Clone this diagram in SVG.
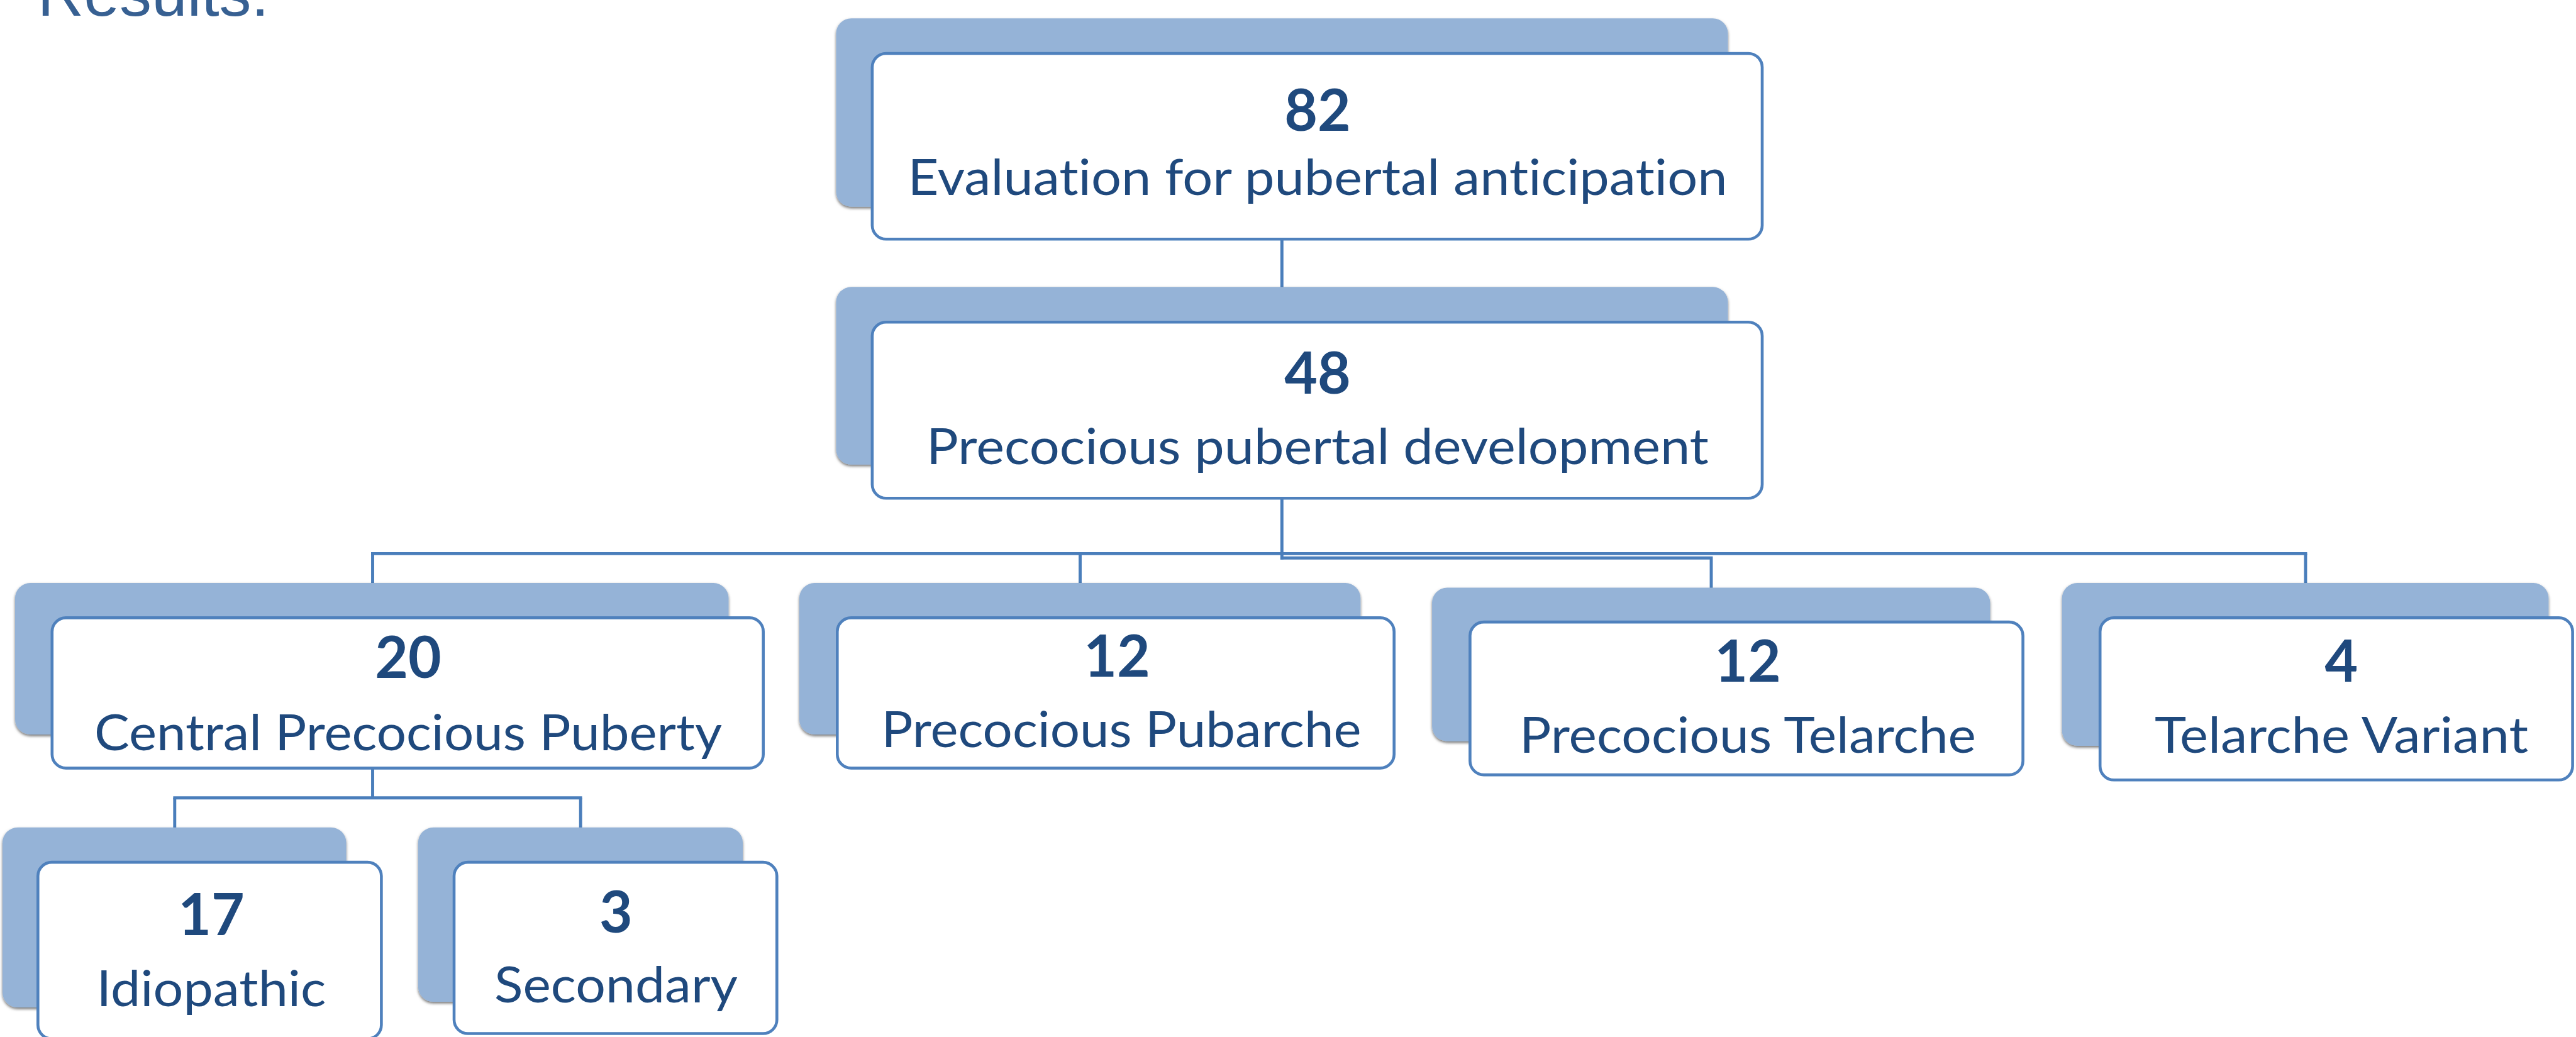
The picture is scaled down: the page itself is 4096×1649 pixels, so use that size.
<svg xmlns="http://www.w3.org/2000/svg" width="4096" height="1649" viewBox="0 0 4096 1649">
<defs>
<filter id="sh" x="-5%" y="-8%" width="110%" height="120%">
<feDropShadow dx="0" dy="2.5" stdDeviation="2" flood-color="#000" flood-opacity="0.55"/>
</filter>
</defs>
<style>
.back{fill:#95B3D7;filter:url(#sh)}
.front{fill:#FFFFFF;stroke:#4F81BD;stroke-width:4.6}
.num{font-family:Lato,"Open Sans",sans-serif;font-weight:700;font-size:91px;fill:#1F497D;text-anchor:middle;font-variant-ligatures:none}
.lbl{font-family:Lato,"Open Sans",sans-serif;font-size:80px;fill:#1F497D;text-anchor:middle;font-variant-ligatures:none;font-feature-settings:"liga" 0,"clig" 0}
.conn{stroke:#4A7EBB;stroke-width:4.9;fill:none}
.title{font-family:"Liberation Sans",Arial,sans-serif;font-size:102px;fill:#376092}
</style>
<rect x="0" y="0" width="4096" height="1649" fill="#FFFFFF"/>
<text class="title" x="59.5" y="25">Results:</text>
<g id="connectors">
<line class="conn" x1="2038.3" y1="382" x2="2038.3" y2="457"/>
<line class="conn" x1="2038.3" y1="794" x2="2038.3" y2="889.7"/>
<line class="conn" x1="590" y1="880.4" x2="3668.5" y2="880.4"/>
<line class="conn" x1="592.5" y1="880.4" x2="592.5" y2="928"/>
<line class="conn" x1="1717.5" y1="880.4" x2="1717.5" y2="928"/>
<line class="conn" x1="3666" y1="880.4" x2="3666" y2="928"/>
<polyline class="conn" points="2035.9,887.3 2721,887.3 2721,935"/>
<line class="conn" x1="592.5" y1="1223" x2="592.5" y2="1268.7"/>
<line class="conn" x1="275.4" y1="1268.7" x2="925.6" y2="1268.7"/>
<line class="conn" x1="277.8" y1="1268.7" x2="277.8" y2="1316.5"/>
<line class="conn" x1="923.2" y1="1268.7" x2="923.2" y2="1316.5"/>
</g>
<g id="n82">
<rect class="back" x="1329.5" y="29.2" width="1418" height="299.5" rx="24"/>
<rect class="front" x="1386.9" y="85" width="1415.1" height="295.2" rx="22"/>
<text class="num" x="2095" y="208.2">82</text>
<text class="lbl" x="2095" y="310.3" textLength="1303" lengthAdjust="spacingAndGlyphs">Evaluation for pubertal anticipation</text>
</g>
<g id="n48">
<rect class="back" x="1329.5" y="456.3" width="1418" height="282.5" rx="24"/>
<rect class="front" x="1386.9" y="512.2" width="1415.1" height="280" rx="22"/>
<text class="num" x="2095" y="626">48</text>
<text class="lbl" x="2095" y="737.9" textLength="1244" lengthAdjust="spacingAndGlyphs">Precocious pubertal development</text>
</g>
<g id="n20">
<rect class="back" x="24" y="927.1" width="1134.5" height="240.8" rx="24"/>
<rect class="front" x="82.8" y="982.4" width="1130.9" height="239" rx="22"/>
<text class="num" x="649" y="1077.6">20</text>
<text class="lbl" x="649" y="1193.2" textLength="998" lengthAdjust="spacingAndGlyphs">Central Precocious Puberty</text>
</g>
<g id="n12a">
<rect class="back" x="1271" y="927.1" width="892.3" height="240.8" rx="24"/>
<rect class="front" x="1331.3" y="982.4" width="885.4" height="239" rx="22"/>
<text class="num" x="1776" y="1075.7">12</text>
<text class="lbl" x="1783" y="1188.2" textLength="763" lengthAdjust="spacingAndGlyphs">Precocious Pubarche</text>
</g>
<g id="n12b">
<rect class="back" x="2277.1" y="934.4" width="887.3" height="244.3" rx="24"/>
<rect class="front" x="2337.4" y="989.1" width="879.2" height="243" rx="22"/>
<text class="num" x="2779" y="1084.3">12</text>
<text class="lbl" x="2779" y="1196.8" textLength="726" lengthAdjust="spacingAndGlyphs">Precocious Telarche</text>
</g>
<g id="n4">
<rect class="back" x="3278.8" y="927.1" width="773.6" height="258.8" rx="24"/>
<rect class="front" x="3339.2" y="982.4" width="751.4" height="257.9" rx="22"/>
<text class="num" x="3723" y="1083.6">4</text>
<text class="lbl" x="3723" y="1196.8" textLength="594" lengthAdjust="spacingAndGlyphs">Telarche Variant</text>
</g>
<g id="n17">
<rect class="back" x="4" y="1315.8" width="546.5" height="286.3" rx="24"/>
<rect class="front" x="60.3" y="1371.1" width="546.1" height="280.6" rx="22"/>
<text class="num" x="336" y="1486.5">17</text>
<text class="lbl" x="336" y="1599.6" textLength="365" lengthAdjust="spacingAndGlyphs">Idiopathic</text>
</g>
<g id="n3">
<rect class="back" x="664.9" y="1315.8" width="516.1" height="277.2" rx="24"/>
<rect class="front" x="722" y="1371.1" width="513.3" height="272.4" rx="22"/>
<text class="num" x="979.5" y="1483">3</text>
<text class="lbl" x="979.5" y="1594.4" textLength="387" lengthAdjust="spacingAndGlyphs">Secondary</text>
</g>
</svg>
